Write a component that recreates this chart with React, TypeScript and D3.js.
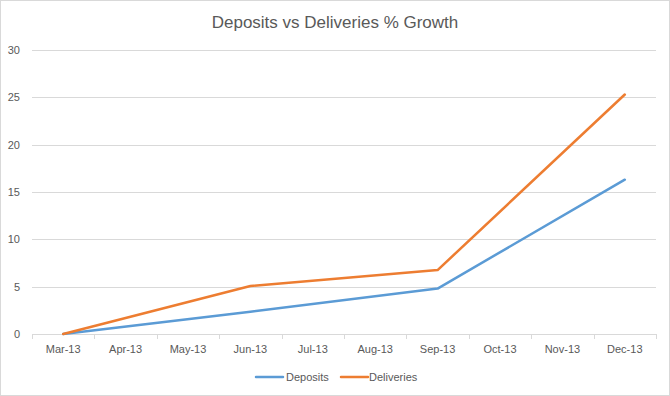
import React, { useEffect, useRef } from "react";
import * as d3 from "d3";

const categories = ["Mar-13", "Apr-13", "May-13", "Jun-13", "Jul-13", "Aug-13", "Sep-13", "Oct-13", "Nov-13", "Dec-13"];
const deposits: (number | null)[] = [0, null, null, 2.35, null, null, 4.8, null, null, 16.3];
const deliveries: (number | null)[] = [0, null, null, 5.07, null, null, 6.75, null, null, 25.3];
const yTicks = [0, 5, 10, 15, 20, 25, 30];

const W = 670, H = 396;
const FONT = "'Liberation Sans Narrow', 'Liberation Sans', Arial, sans-serif";

export default function App() {
  const ref = useRef<SVGSVGElement>(null);
  useEffect(() => {
    document.body.style.margin = "0";
    const svg = d3.select(ref.current);
    svg.selectAll("*").remove();
    const left = 32, right = 656, top = 50, bottom = 334;
    const x = d3.scaleBand<string>().domain(categories).range([left, right]);
    const y = d3.scaleLinear().domain([0, 30]).range([bottom, top]);

    svg.append("rect").attr("x", 0.5).attr("y", 0.5).attr("width", W - 1).attr("height", H - 1)
      .attr("fill", "#fff").attr("stroke", "#d9d9d9");

    svg.append("text").attr("x", 335).attr("y", 28).attr("text-anchor", "middle")
      .attr("font-family", FONT).attr("font-size", 17).attr("fill", "#595959")
      .text("Deposits vs Deliveries % Growth");

    const g = svg.append("g");
    yTicks.forEach((t) => {
      if (t !== 0) {
        g.append("line").attr("x1", left).attr("x2", right).attr("y1", Math.round(y(t)) + 0.5).attr("y2", Math.round(y(t)) + 0.5)
          .attr("stroke", "#d9d9d9").attr("stroke-width", 1);
      }
      g.append("text").attr("x", 20).attr("y", y(t)).attr("dy", "0.35em").attr("text-anchor", "end")
        .attr("font-family", FONT).attr("font-size", 11).attr("fill", "#595959").text(String(t));
    });
    // x axis
    g.append("line").attr("x1", left).attr("x2", right).attr("y1", bottom + 0.5).attr("y2", bottom + 0.5)
      .attr("stroke", "#d9d9d9");
    const bw = x.bandwidth();
    for (let i = 0; i <= categories.length; i++) {
      const xx = Math.round(left + i * bw) + 0.5;
      g.append("line").attr("x1", xx).attr("x2", xx).attr("y1", bottom).attr("y2", bottom + 5).attr("stroke", "#d9d9d9");
    }
    categories.forEach((c) => {
      g.append("text").attr("x", (x(c) as number) + bw / 2).attr("y", 349).attr("dy", "0.35em")
        .attr("text-anchor", "middle").attr("font-family", FONT).attr("font-size", 11).attr("fill", "#595959").text(c);
    });

    const series = [
      { name: "Deposits", values: deposits, color: "#5b9bd5" },
      { name: "Deliveries", values: deliveries, color: "#ed7d31" },
    ];
    const line = d3.line<{ c: string; v: number }>()
      .x((d) => (x(d.c) as number) + bw / 2).y((d) => y(d.v));
    series.forEach((s) => {
      const pts = s.values.map((v, i) => ({ c: categories[i], v: v as number })).filter((d, i) => s.values[i] !== null);
      g.append("path").attr("d", line(pts) as string).attr("fill", "none").attr("stroke", s.color)
        .attr("stroke-width", 2.5).attr("stroke-linejoin", "round").attr("stroke-linecap", "round");
    });

    // legend
    const legendPos = [{ x1: 256, tx: 286 }, { x1: 341, tx: 369 }];
    series.forEach((s, i) => {
      const p = legendPos[i];
      svg.append("line").attr("x1", p.x1).attr("x2", p.x1 + 27).attr("y1", 377).attr("y2", 377)
        .attr("stroke", s.color).attr("stroke-width", 2.5).attr("stroke-linecap", "round");
      svg.append("text").attr("x", p.tx).attr("y", 377).attr("dy", "0.35em").attr("font-family", FONT)
        .attr("font-size", 11).attr("fill", "#595959").text(s.name);
    });
  }, []);
  return <svg ref={ref} width={W} height={H} style={{ display: "block" }} />;
}
